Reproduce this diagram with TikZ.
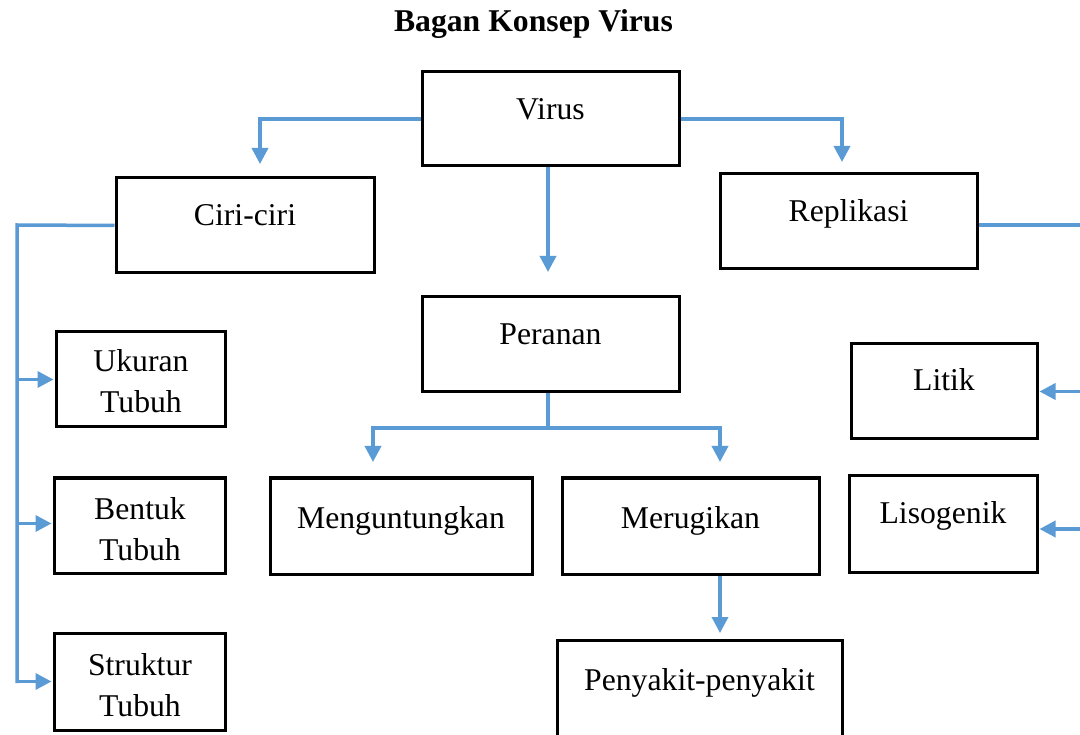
\documentclass[tikz,border=0pt]{standalone}
\usepackage{fontspec}
\setmainfont{Liberation Serif}
\usetikzlibrary{arrows.meta,calc}
\definecolor{lineblue}{HTML}{5B9BD5}
\tikzset{
  box/.style={draw=black, line width=3pt, inner sep=0pt, rectangle},
  txt/.style={anchor=base, inner sep=0pt, font=\fontsize{31.7}{41}\selectfont},
  link/.style={draw=lineblue, line width=3.5pt},
  conn/.style={link, -{Triangle[length=16pt,width=16pt]}, shorten >=1pt},
}
\begin{document}
\begin{tikzpicture}[x=1pt,y=-1pt]
\useasboundingbox (0,0) rectangle (1080,735);
\clip (0,0) rectangle (1080,735);
\fill[white] (0,0) rectangle (1080,735);

% title
\node[txt, font=\fontsize{31.7}{41}\selectfont\bfseries] (title) at (533.5,32) {Bagan Konsep Virus};

% boxes
\node[box, minimum width=257pt, minimum height=94pt] (virus) at (550.5,119) {};
\node[box, minimum width=258pt, minimum height=95pt] (ciri) at (245,225.5) {};
\node[box, minimum width=257pt, minimum height=95pt] (repl) at (848.5,221.5) {};
\node[box, minimum width=257pt, minimum height=95pt] (peranan) at (550.5,344.5) {};
\node[box, minimum width=169pt, minimum height=95pt] (ukuran) at (140.5,379.5) {};
\node[box, minimum width=171pt, minimum height=95pt] (bentuk) at (139.5,525.5) {};
\node[box, minimum width=171pt, minimum height=97pt] (struktur) at (139.5,681.5) {};
\node[box, minimum width=262pt, minimum height=96pt] (untung) at (401,526) {};
\node[box, minimum width=257pt, minimum height=96pt] (rugi) at (690.5,526) {};
\node[box, minimum width=285pt, minimum height=110pt] (penyakit) at (699.5,695) {};
\node[box, minimum width=186pt, minimum height=95pt] (litik) at (944,391.5) {};
\node[box, minimum width=188pt, minimum height=96pt] (lisogenik) at (943,524) {};

% texts
\node[txt] (virusT) at (550.5,120) {Virus};
\node[txt] (ciriT) at (245,226) {Ciri-ciri};
\node[txt] (replT) at (848.5,222) {Replikasi};
\node[txt] (perananT) at (550.5,345) {Peranan};
\node[txt] (ukuranT) at (141,372) {\begin{tabular}[t]{@{}c@{}}Ukuran\\Tubuh\end{tabular}};
\node[txt] (bentukT) at (140,519) {\begin{tabular}[t]{@{}c@{}}Bentuk\\Tubuh\end{tabular}};
\node[txt] (strukturT) at (140,675) {\begin{tabular}[t]{@{}c@{}}Struktur\\Tubuh\end{tabular}};
\node[txt] (untungT) at (401,528) {Menguntungkan};
\node[txt] (rugiT) at (690.5,528) {Merugikan};
\node[txt] (penyakitT) at (699.5,690) {Penyakit-penyakit};
\node[txt] (litikT) at (944,391) {Litik};
\node[txt] (lisogenikT) at (943,523) {Lisogenik};

% connector coordinates
\coordinate (ciriTip) at (260,165);
\coordinate (replTip) at (842,163);
\coordinate (perTip) at (548,273);
\coordinate (busL) at (17,225);
\coordinate (busLend) at (17,683);
\coordinate (edgeR) at (1090,225);
\coordinate (perJ) at (548,428);
\coordinate (untTip) at (373,463);
\coordinate (rugTip) at (720,463);
\coordinate (penTip) at (720,634);

% Virus branches
\draw[conn] (virus.west) -| (ciriTip);
\draw[conn] (virus.east) -| (replTip);
\draw[conn] (virus.south -| perTip) -- (perTip);

% Ciri-ciri bus
\draw[link] (ciri.west) -- (busL) -- (busLend);
\draw[conn] (ukuran.west -| busL) -- (ukuran.west);
\draw[conn] ([yshift=2pt]bentuk.west -| busL) -- ([yshift=2pt]bentuk.west);
\draw[conn] (struktur.west -| busL) -- (struktur.west);

% Replikasi
\draw[link] ([yshift=-3.5pt]repl.east) -- ([yshift=-3.5pt]repl.east -| edgeR);
\draw[conn] (litik.east -| edgeR) -- (litik.east);
\draw[conn] ([yshift=-5pt]lisogenik.east -| edgeR) -- ([yshift=-5pt]lisogenik.east);

% Peranan
\draw[link] (peranan.south -| perJ) -- (perJ);
\draw[conn] (perJ) -| (untTip);
\draw[conn] (perJ) -| (rugTip);

% Merugikan
\draw[conn] (rugi.south -| penTip) -- (penTip);
\end{tikzpicture}
\end{document}
